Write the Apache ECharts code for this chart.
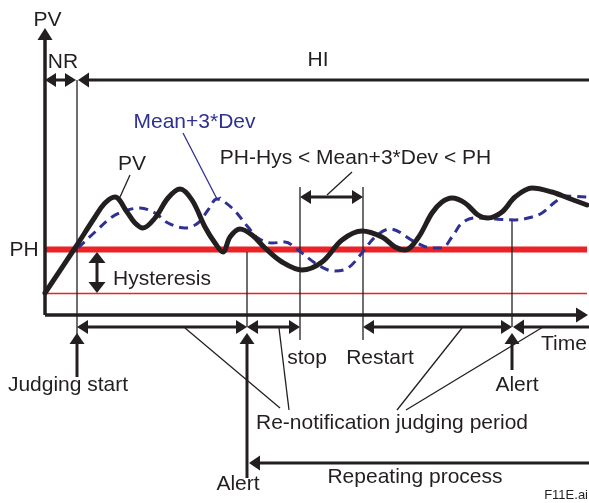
<!DOCTYPE html>
<html><head><meta charset="utf-8">
<script src="https://cdn.jsdelivr.net/npm/echarts@6/dist/echarts.min.js"></script>
<style>html,body{margin:0;padding:0;background:#fff}#c{width:589px;height:503px}</style>
</head><body><div id="c"></div>
<script>
// Time axis starts at the PV axis; PV level 0 is the time axis.
const pvTimes  = [0,30,50,60,70,82,90,98,110,123,135,147,160,170,178,185,195,207,220,237,257,277,297,317,337,350,360,373,387,397,407,420,433,443,457,470,487,507,523,542];
const pvValues = [22,67,98,112,118,103,92,87,97,117,126,115,88,72,63,78,86,80,67,53,45,53,75,84,78,68,65,77,102,113,117,112,100,97,103,118,127,123,117,110];
const meanTimes  = [33,50,67,83,95,110,123,140,153,163,172,187,203,213,227,240,253,270,283,290,303,317,330,345,370,387,397,407,417,430,450,470,483,497,510,520,542];
const meanValues = [67,83,98,105,107,102,92,87,92,105,116,107,88,77,72,73,65,52,45,44,47,62,78,86,73,67,67,78,92,97,96,95,97,102,113,119,118];
const levelPH = 65.5;
const levelPHHys = 21.5;
const levelHI = 235;
const levelPeriod = -12;
const tJudge = 32, tAlert1 = 202, tStop = 255, tRestart = 318, tAlert2 = 467, tEnd = 544;

// [t1, v1, t2, v2] — arrow head at second point
const axisArrows = [[0,0,0,287],[0,0,543,0]];
const singleArrows = [[tEnd,levelHI,tJudge+1,levelHI],[tJudge,-62,tJudge,-18],[tAlert1,-163,tAlert1,-18],[tAlert2,-55,tAlert2,-18],[tEnd,-148,204,-148],[tEnd,levelPeriod,tAlert2+1,levelPeriod]];
const doubleArrows = [[0,levelHI,tJudge-1,levelHI],[tJudge,levelPeriod,tAlert1,levelPeriod],[tAlert1,levelPeriod,tStop,levelPeriod],[tRestart,levelPeriod,tAlert2,levelPeriod],[tStop,118,tRestart,118]];
const hysteresisArrow = [[52,63,52,22]];
const thinLines = [[tJudge,levelHI,tJudge,-22],[tAlert1,63,tAlert1,-12],[tStop,128,tStop,-25],[tRestart,128,tRestart,-25],[tAlert2,95,tAlert2,-12],
  [85,140,75,118],[307,143,282,120],[140,-13,235,-93],[234,-13,244,-95],[417,-13,352,-95],[498,-12,361,-95]];
const blueLines = [[138,182,172,116],[168,114,176,118]];

const labelTexts  = ['PV','NR','HI','Mean+3*Dev','PV','PH-Hys < Mean+3*Dev < PH','PH','Hysteresis','Judging start','stop','Restart','Time','Alert','Alert','Re-notification judging period','Repeating process','F11E.ai'];
const labelTimes  = [2.5,18,273,149.5,87,310.5,-21,117,23,262,335,519,472,193,347,370,543];
const labelLevels = [295,253,255,193,151,157,65,36,-70,-43,-43,-29,-70,-169,-108,-162,-180];

const BLACK = '#231f20', RED = '#ec2227', BLUE = '#2e3192';

function seg(a,b,lw,color){
  return {type:'line',shape:{x1:a[0],y1:a[1],x2:b[0],y2:b[1]},style:{stroke:color,lineWidth:lw}};
}
function head(tip,ux,uy,L,W,color){
  const nx=-uy, ny=ux, bx=tip[0]-ux*L, by=tip[1]-uy*L;
  return {type:'polygon',shape:{points:[tip,[bx+nx*W,by+ny*W],[bx-nx*W,by-ny*W]]},style:{fill:color}};
}
function arrowRenderer(heads,lw,L,W,color){
  return function(params,api){
    const a=api.coord([api.value(0),api.value(1)]), b=api.coord([api.value(2),api.value(3)]);
    const dx=b[0]-a[0], dy=b[1]-a[1], len=Math.hypot(dx,dy)||1, ux=dx/len, uy=dy/len;
    const ch=[];
    let s=a, e=b;
    if(heads>=1){ e=[b[0]-ux*L*0.6,b[1]-uy*L*0.6]; }
    if(heads>=2){ s=[a[0]+ux*L*0.6,a[1]+uy*L*0.6]; }
    ch.push(seg(s,e,lw,color));
    if(heads>=1) ch.push(head(b,ux,uy,L,W,color));
    if(heads>=2) ch.push(head(a,-ux,-uy,L,W,color));
    return {type:'group',children:ch};
  };
}
function customSeries(data,renderer,z){
  return {type:'custom',coordinateSystem:'cartesian2d',data:data,renderItem:renderer,silent:true,z:z,
    encode:{x:[0,2],y:[1,3]},animation:false};
}

const chart = echarts.init(document.getElementById('c'),null,{renderer:'canvas'});
chart.setOption({
  animation:false,
  backgroundColor:'#fff',
  grid:{left:0,right:0,top:0,bottom:0,containLabel:false},
  xAxis:{type:'value',min:-45,max:544,show:false},
  yAxis:{type:'value',min:-188,max:315,show:false},
  series:[
    {type:'line',data:[[0,levelPH],[542,levelPH]],symbol:'none',lineStyle:{color:RED,width:6},silent:true,z:1},
    {type:'line',data:[[0,levelPHHys],[542,levelPHHys]],symbol:'none',lineStyle:{color:RED,width:1.5},silent:true,z:1},
    customSeries(thinLines,arrowRenderer(0,1.3,0,0,BLACK),2),
    {type:'line',data:meanTimes.map((t,i)=>[t,meanValues[i]]),symbol:'none',smooth:0.35,
      lineStyle:{color:BLUE,width:3,type:[9,6]},silent:true,z:3},
    {type:'line',data:pvTimes.map((t,i)=>[t,pvValues[i]]),symbol:'none',smooth:0.35,
      lineStyle:{color:BLACK,width:5,cap:'round',join:'round'},silent:true,z:4},
    customSeries(blueLines,arrowRenderer(0,1.3,0,0,BLUE),5),
    customSeries(axisArrows,arrowRenderer(1,3.5,12,7.5,BLACK),6),
    customSeries(singleArrows,arrowRenderer(1,3,11,7.5,BLACK),6),
    customSeries(doubleArrows,arrowRenderer(2,3,11,7,BLACK),6),
    customSeries(hysteresisArrow,arrowRenderer(2,3,11,8.5,BLACK),6),
    {type:'custom',coordinateSystem:'cartesian2d',silent:true,z:7,animation:false,
      data:labelTimes.map((t,i)=>[t,labelLevels[i]]),
      renderItem:function(params,api){
        const i=params.dataIndex, p=api.coord([api.value(0),api.value(1)]);
        const txt=labelTexts[i], small = txt==='F11E.ai';
        return {type:'text',x:p[0],y:p[1],style:{text:txt,fill:txt==='Mean+3*Dev'?BLUE:BLACK,
          font:(small?'13px':'21px')+' "Liberation Sans", Arial, sans-serif',
          align:small?'right':'center',verticalAlign:'middle'}};
      }}
  ]
});
</script></body></html>
